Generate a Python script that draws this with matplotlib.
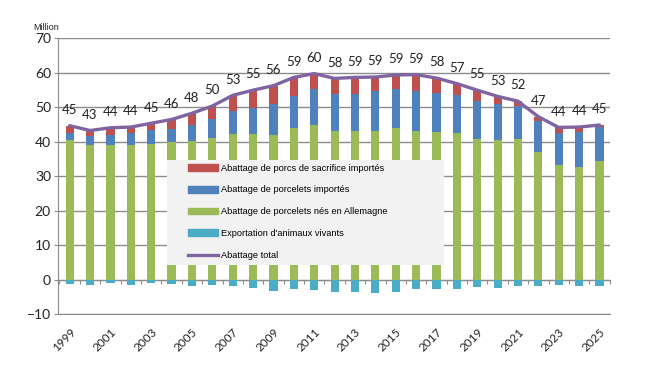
import numpy as np
import matplotlib.pyplot as plt
from matplotlib.patches import Patch, Rectangle
from matplotlib.lines import Line2D

# Data (million animals)
years = list(range(1999, 2026))
born_de = [40.4, 39.0, 39.0, 39.0, 39.4, 39.8, 40.1, 41.0, 42.3, 42.3, 42.0, 43.8, 44.9, 43.0,
           43.0, 43.2, 43.9, 43.2, 42.7, 42.5, 40.8, 40.4, 40.6, 37.1, 33.1, 32.6, 34.4]
piglets_imp = [2.1, 2.7, 3.0, 3.5, 3.9, 3.9, 4.8, 5.4, 6.5, 7.4, 9.0, 9.5, 10.2, 10.9,
               10.9, 11.4, 11.4, 11.4, 11.4, 11.1, 11.1, 10.6, 9.8, 8.8, 9.4, 10.1, 9.8]
pigs_imp = [2.1, 1.5, 2.0, 1.7, 2.0, 2.7, 3.3, 3.9, 4.6, 5.2, 5.2, 5.3, 4.6, 4.4,
            4.7, 4.1, 4.0, 4.8, 4.3, 3.2, 3.0, 2.1, 1.3, 1.3, 1.6, 1.5, 0.6]
export_live = [-1.4, -1.6, -1.1, -1.6, -1.1, -1.4, -1.8, -1.6, -2.0, -2.4, -3.4, -2.8, -3.1, -3.5,
               -3.5, -3.8, -3.5, -2.6, -2.6, -2.6, -2.2, -2.4, -2.0, -2.0, -1.7, -2.0, -2.0]
total = [44.6, 43.2, 44.0, 44.2, 45.3, 46.4, 48.2, 50.3, 53.4, 54.9, 56.2, 58.6, 59.7, 58.3,
         58.6, 58.7, 59.3, 59.4, 58.4, 56.8, 54.9, 53.1, 51.7, 47.2, 44.1, 44.2, 44.8]

c_red = '#c0504d'
c_blue = '#4f81bd'
c_green = '#9bbb59'
c_cyan = '#4bacc6'
c_purple = '#8064a2'
c_grid = '#8c8c8c'

x = np.arange(len(years))
w = 0.4

fig = plt.figure(figsize=(6.5, 3.66), dpi=100)
ax = fig.add_axes([0.089, 0.142, 0.849, 0.754])

b1 = np.array(born_de)
b2 = b1 + np.array(piglets_imp)
ax.bar(x, born_de, w, color=c_green, zorder=2)
ax.bar(x, piglets_imp, w, bottom=b1, color=c_blue, zorder=2)
ax.bar(x, pigs_imp, w, bottom=b2, color=c_red, zorder=2)
ax.bar(x, export_live, w, color=c_cyan, zorder=2)
ax.plot(x, total, color=c_purple, linewidth=2.4, zorder=3, solid_capstyle='round')

for xi, t in zip(x, total):
    ax.annotate('%.0f' % t, (xi, t), xytext=(0, 7), textcoords='offset points',
                ha='center', va='bottom', fontsize=9.5, family='Lato', color='#222222')

ax.set_xlim(-0.58, 26.5)
ax.set_ylim(-10, 70)
ax.set_yticks(range(-10, 71, 10))
ax.yaxis.grid(True, color=c_grid, linewidth=1)
ax.set_axisbelow(True)
for s in ['top', 'right']:
    ax.spines[s].set_visible(False)
ax.spines['left'].set_color(c_grid)
ax.spines['bottom'].set_color(c_grid)
ax.tick_params(axis='y', colors=c_grid, length=3, labelsize=10, labelcolor='#222222', pad=2)
for lab in ax.get_yticklabels():
    lab.set_family('Lato')

ax.set_xticks(x[::2])
ax.set_xticklabels([str(y) for y in years[::2]], rotation=45, ha='right',
                   rotation_mode='anchor', fontsize=8.5, family='Lato', color='#222222')
ax.tick_params(axis='x', length=0, pad=9)

# zero axis with category tick marks
sec = ax.secondary_xaxis(10 / 80)
sec.set_xticks(np.arange(-0.5, len(years), 1.0))
sec.set_xticklabels([])
sec.tick_params(length=3, color=c_grid)
sec.spines['bottom'].set_color(c_grid)

fig.text(0.051, 0.918, 'Million', fontsize=6.5, family='Liberation Sans', color='#222222')

# legend background box
ax.add_patch(Rectangle((0.197, 0.178), 0.502, 0.38, transform=ax.transAxes,
                       facecolor='#f2f2f2', edgecolor='none', zorder=4))

handles = [Patch(color=c_red), Patch(color=c_blue), Patch(color=c_green), Patch(color=c_cyan),
           Line2D([], [], color=c_purple, linewidth=2.4)]
labels = ['Abattage de porcs de sacrifice importés',
          'Abattage de porcelets importés',
          'Abattage de porcelets nés en Allemagne',
          "Exportation d'animaux vivants",
          'Abattage total']
leg = ax.legend(handles, labels, loc='upper left', bbox_to_anchor=(0.2355, 0.545),
                prop={'family': 'Liberation Sans', 'size': 6.7}, frameon=False,
                handlelength=3.2, handleheight=0.75, labelspacing=1.38,
                borderpad=0, handletextpad=0.35, borderaxespad=0)
leg.set_zorder(5)

plt.savefig('out.png', dpi=100)
